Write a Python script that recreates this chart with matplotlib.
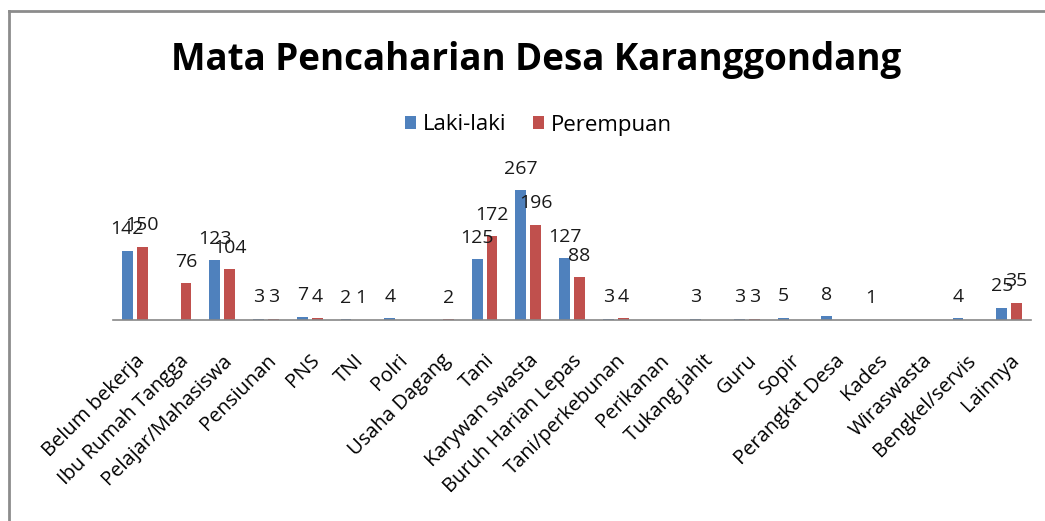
import numpy as np
import matplotlib
matplotlib.use('Agg')
import matplotlib.pyplot as plt
from matplotlib.lines import Line2D

kategori = ['Belum bekerja', 'Ibu Rumah Tangga', 'Pelajar/Mahasiswa', 'Pensiunan',
            'PNS', 'TNI', 'Polri', 'Usaha Dagang', 'Tani', 'Karywan swasta',
            'Buruh Harian Lepas', 'Tani/perkebunan', 'Perikanan', 'Tukang jahit',
            'Guru', 'Sopir', 'Perangkat Desa', 'Kades', 'Wiraswasta',
            'Bengkel/servis', 'Lainnya']
laki = [142, None, 123, 3, 7, 2, 4, None, 125, 267, 127, 3, None, 3, 3, 5, 8, 1,
        None, 4, 25]
perempuan = [150, 76, 104, 3, 4, 1, None, 2, 172, 196, 88, 4, None, None, 3,
             None, None, None, None, None, 35]

biru = '#4f81bd'
merah = '#c0504d'

plt.rcParams['font.family'] = ['Open Sans', 'DejaVu Sans']

fig = plt.figure(figsize=(10.45, 5.21), dpi=100)
ax = fig.add_axes([113 / 1045, 1 - 320 / 521, (1031 - 113) / 1045, (320 - 174) / 521])

x = np.arange(len(kategori))
w = 0.25
off = 0.17

def gambar(data, dx, warna, label):
    vals = np.array([np.nan if v is None else v for v in data], dtype=float)
    ax.bar(x + dx, np.nan_to_num(vals), w, color=warna, label=label, linewidth=0)
    for xi, v in zip(x, data):
        if v is not None:
            ax.annotate(str(v), (xi + dx, v), xytext=(0, 9), textcoords='offset points',
                        ha='center', va='bottom', fontsize=14, color='#1a1a1a')

gambar(laki, -off, biru, 'Laki-laki')
gambar(perempuan, off, merah, 'Perempuan')

ax.set_xlim(-0.5, len(kategori) - 0.5)
ax.set_ylim(0, 300)
ax.set_yticks([])
for s in ['top', 'right', 'left']:
    ax.spines[s].set_visible(False)
ax.spines['bottom'].set_color('#888888')
ax.spines['bottom'].set_linewidth(1.2)
ax.set_xticks(x)
ax.set_xticklabels(kategori, rotation=45, ha='right', rotation_mode='anchor',
                   fontsize=14.5)
ax.tick_params(axis='x', length=0, pad=22)

fig.text(0.513, 1 - 60 / 521, 'Mata Pencaharian Desa Karanggondang',
         ha='center', va='center', fontsize=26.5, fontweight='bold')

ax.legend(loc='center', bbox_to_anchor=(0.515, 1 - 125 / 521), bbox_transform=fig.transFigure,
          ncol=2, frameon=False, fontsize=16, handlelength=0.5, handleheight=0.5,
          handletextpad=0.3, columnspacing=1.2)

# bingkai
fig.add_artist(Line2D([9 / 1045, 9 / 1045], [0, 1 - 11 / 521], transform=fig.transFigure,
                      color='#8c8c8c', linewidth=2))
fig.add_artist(Line2D([9 / 1045, 1], [1 - 11 / 521, 1 - 11 / 521], transform=fig.transFigure,
                      color='#8c8c8c', linewidth=2))

fig.savefig('out.png', dpi=100)
